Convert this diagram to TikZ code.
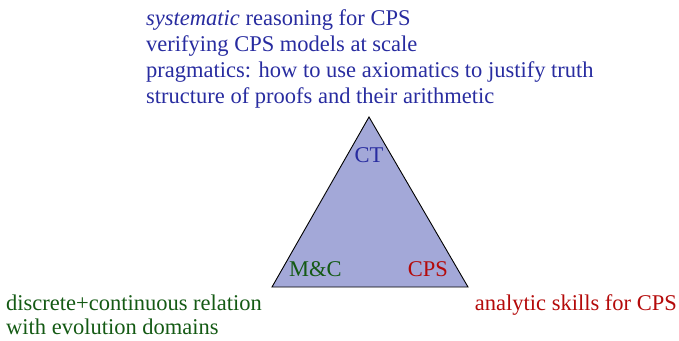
\documentclass[tikz,border=0pt]{standalone}
\usepackage{fontspec}
\setmainfont{Liberation Serif}
\definecolor{ctblue}{RGB}{40,44,160}
\definecolor{mcgreen}{RGB}{20,90,20}
\definecolor{cpsred}{RGB}{180,10,10}
\definecolor{trifill}{RGB}{163,168,216}
\begin{document}
\begin{tikzpicture}[x=1pt,y=-1pt,
  lbl/.style={inner sep=0pt,font=\fontsize{22.5}{26}\selectfont},
  tri/.style={fill=trifill,draw=black,line width=0.9pt,line join=miter}]
\useasboundingbox (0,0) rectangle (679,340);
\coordinate (top) at (369,117);
\coordinate (bl) at (272,287);
\coordinate (br) at (468,287);
\draw[tri] (top) -- (bl) -- (br) -- cycle;
\node[lbl,anchor=base,text=ctblue] (ct) at (369,162) {CT};
\node[lbl,anchor=base west,text=mcgreen] (mc) at (289,276) {M\&C};
\node[lbl,anchor=base east,text=cpsred] (cps) at (448,276) {CPS};
\node[lbl,anchor=base west,text=ctblue] (ct1) at (146,25) {\textit{systematic} reasoning for CPS};
\node[lbl,anchor=base west,text=ctblue] (ct2) at (146,51) {verifying CPS models at scale};
\node[lbl,anchor=base west,text=ctblue] (ct3) at (146,77) {pragmatics: how to use axiomatics to justify truth};
\node[lbl,anchor=base west,text=ctblue] (ct4) at (146,103) {structure of proofs and their arithmetic};
\node[lbl,anchor=base west,text=mcgreen] (mc1) at (6,310) {discrete+continuous relation};
\node[lbl,anchor=base west,text=mcgreen] (mc2) at (6,334) {with evolution domains};
\node[lbl,anchor=base east,text=cpsred] (cps1) at (677,310) {analytic skills for CPS};
\end{tikzpicture}
\end{document}
